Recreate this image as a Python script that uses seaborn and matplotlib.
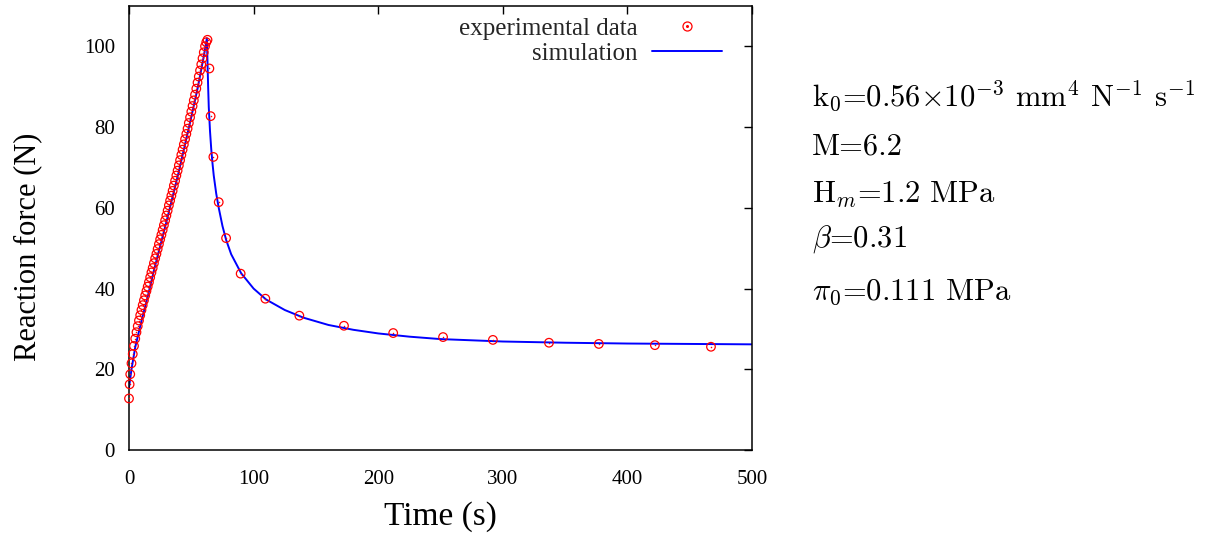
import matplotlib
matplotlib.use("Agg")
import matplotlib.pyplot as plt
from matplotlib.lines import Line2D
from matplotlib.legend_handler import HandlerTuple
import seaborn as sns
import pandas as pd

# === Données ===
t_exp = [0, 0.5, 1, 2, 3, 4, 5, 6, 7, 8, 9, 10, 11, 12, 13, 14, 15, 16, 17, 18, 19,
         20, 21, 22, 23, 24, 25, 26, 27, 28, 29, 30, 31, 32, 33, 34, 35, 36, 37, 38,
         39, 40, 41, 42, 43, 44, 45, 46, 47, 48, 49, 50, 51, 52, 53, 54, 55, 56, 57,
         58, 59, 60, 61, 62, 63, 64.5, 65.5, 67.7, 72, 77.9, 89.6, 109.4, 136.7,
         172.5, 212, 252, 292, 337, 377, 422, 467]
f_exp = [12.8, 16.3, 18.8, 21.5, 23.8, 25.8, 27.6, 29.2, 30.7, 32.1, 33.4, 34.7,
         35.9, 37.1, 38.3, 39.4, 40.5, 41.6, 42.8, 44.0, 45.1, 46.3, 47.5, 48.6,
         49.8, 51.0, 52.2, 53.3, 54.5, 55.7, 56.9, 58.1, 59.3, 60.6, 61.8, 63.0,
         64.2, 65.5, 66.7, 68.0, 69.2, 70.5, 71.8, 73.1, 74.4, 75.7, 77.0, 78.3,
         79.6, 81.0, 82.4, 83.8, 85.2, 86.6, 88.0, 89.5, 91.0, 92.5, 94.0, 95.5,
         97.0, 98.5, 100.0, 101.0, 101.6, 94.5, 82.7, 72.6, 61.4, 52.5, 43.7, 37.5,
         33.3, 30.8, 29.0, 28.0, 27.3, 26.6, 26.3, 26.0, 25.6]

t_sim = [0, 2, 5, 10, 15, 20, 30, 40, 50, 55, 60, 62.5, 63, 63.5, 64, 65, 66, 67,
         68, 70, 72, 75, 78, 82, 90, 100, 110, 125, 140, 160, 180, 200, 225, 250,
         300, 350, 400, 450, 500]
f_sim = [15.5, 20.0, 25.5, 32.0, 38.0, 44.5, 56.5, 69.0, 82.5, 89.5, 97.5, 102.0,
         96.0, 90.0, 85.0, 79.0, 74.5, 71.0, 68.0, 63.5, 60.0, 55.5, 52.0, 48.5,
         43.8, 40.0, 37.3, 34.7, 32.8, 31.0, 29.8, 28.9, 28.1, 27.5, 26.9, 26.6,
         26.4, 26.3, 26.2]

params = [r"k$_0$=0.56$\times$10$^{-3}$ mm$^4$ N$^{-1}$ s$^{-1}$",
          r"M=6.2",
          r"H$_m$=1.2 MPa",
          r"$\beta$=0.31",
          r"$\pi_0$=0.111 MPa"]

df_exp = pd.DataFrame({"t": t_exp, "f": f_exp})
df_sim = pd.DataFrame({"t": t_sim, "f": f_sim})

# === Style ===
sns.set_theme(style="white")
plt.rcParams["font.family"] = ["Liberation Serif", "DejaVu Serif"]
plt.rcParams["mathtext.fontset"] = "cm"

fig = plt.figure(figsize=(12.17, 5.34), dpi=100)
ax = fig.add_axes([0.106, 0.157, 0.512, 0.832])

sns.lineplot(data=df_sim, x="t", y="f", sort=False, estimator=None,
             color="#0000ff", linewidth=1.4, ax=ax)
sns.scatterplot(data=df_exp, x="t", y="f", marker="o", s=38, clip_on=False,
                facecolors="none", edgecolor="#ff0000", linewidth=0.9, ax=ax, zorder=3)
sns.scatterplot(data=df_exp, x="t", y="f", marker="o", s=1.2, clip_on=False,
                color="#ff0000", linewidth=0, ax=ax, zorder=4)

ax.set_xlim(0, 500)
ax.set_ylim(0, 110)
ax.set_xticks([0, 100, 200, 300, 400, 500])
ax.set_yticks([0, 20, 40, 60, 80, 100])
ax.tick_params(direction="in", length=6, width=1, top=True, right=True,
               labelsize=15, colors="black")
ax.tick_params(axis="x", pad=14)
ax.tick_params(axis="y", pad=10)
for sp in ax.spines.values():
    sp.set_color("black")
    sp.set_linewidth(1.1)
ax.set_xlabel("Time (s)", fontsize=24, color="black")
ax.set_ylabel("Reaction force (N)", fontsize=22, color="black")
ax.xaxis.set_label_coords(0.5, -0.115)
ax.yaxis.set_label_coords(-0.14, 0.457)

# légende à la gnuplot
h_exp = (Line2D([], [], marker="o", ls="none", mfc="none", mec="#ff0000", ms=6.5, mew=0.9),
         Line2D([], [], marker="o", ls="none", color="#ff0000", ms=1.2))
h_sim = Line2D([], [], color="#0000ff", lw=1.4)
leg = ax.legend([h_exp, h_sim], ["experimental data", "simulation"],
                handler_map={tuple: HandlerTuple(ndivide=1)},
                loc="upper right", bbox_to_anchor=(0.978, 1.011), frameon=False,
                markerfirst=False, fontsize=18, handlelength=2.8,
                labelspacing=0.1, handletextpad=0.6, borderaxespad=0.25)
for col in leg._legend_handle_box.get_children():
    col.align = "right"

# paramètres (lignes de base)
for s, yb in zip(params, [0.800, 0.710, 0.620, 0.5375, 0.438]):
    fig.text(0.667, yb, s, fontsize=22, family="cmr10",
             va="baseline", ha="left", color="black")

fig.savefig("out.png", dpi=100)
